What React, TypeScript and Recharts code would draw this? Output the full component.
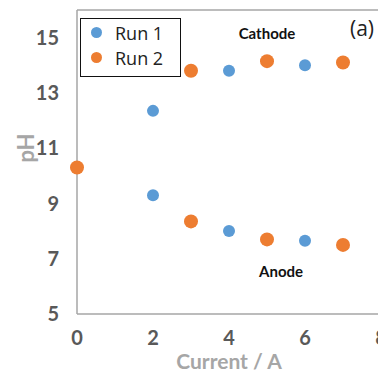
import { ScatterChart, Scatter, XAxis, YAxis, ReferenceLine, ReferenceDot, Legend } from 'recharts';

const run1Current = [2, 4, 6, 2, 4, 6];
const run1PH = [12.35, 13.8, 14.0, 9.3, 8.0, 7.65];
const run2Current = [0, 3, 5, 7, 3, 5, 7];
const run2PH = [10.3, 13.8, 14.15, 14.1, 8.35, 7.7, 7.5];
const xTicks = [0, 2, 4, 6, 8];
const yTicks = [5, 7, 9, 11, 13, 15];

const run1 = run1Current.map((x, i) => ({ x, y: run1PH[i] }));
const run2 = run2Current.map((x, i) => ({ x, y: run2PH[i] }));

const BLUE = '#5B9BD5';
const ORANGE = '#ED7D31';
const AXIS = '#a6a6a6';
const TICK = { fill: '#595959', fontSize: 20, fontWeight: 700, fontFamily: 'Lato' };

function LegendBox() {
  const row = (color: string, label: string) => (
    <div style={{ display: 'flex', alignItems: 'center', height: 25 }}>
      <span style={{ width: 11, height: 11, borderRadius: '50%', background: color, display: 'inline-block', marginLeft: 10, marginRight: 13 }} />
      <span style={{ fontFamily: 'Open Sans', fontSize: 18, color: '#222' }}>{label}</span>
    </div>
  );
  return (
    <div style={{ border: '1.5px solid #111', width: 101, height: 59, boxSizing: 'border-box', background: '#fff', paddingTop: 1 }}>
      {row(BLUE, 'Run 1')}
      {row(ORANGE, 'Run 2')}
    </div>
  );
}

const PHLabel = () => (
  <text x={25} y={148} transform="rotate(-90 25 148)" textAnchor="middle" dominantBaseline="central"
    fill={AXIS} fontSize={22} fontFamily="Lato" fontWeight={700}>pH</text>
);

export default function App() {
  return (
    <div style={{ position: 'absolute', left: 0, top: 0, width: 378, height: 373, overflow: 'hidden', background: '#fff' }}>
      <ScatterChart width={400} height={373} margin={{ top: 10, right: 19, bottom: 0, left: 0 }}>
        <XAxis type="number" dataKey="x" domain={[0, 8]} ticks={xTicks} tickSize={0} tickMargin={17}
          axisLine={{ stroke: AXIS, strokeWidth: 1.5 }} tick={TICK} height={59}
          label={{ value: 'Current / A', position: 'insideBottom', offset: 4, fill: AXIS, fontSize: 21, fontWeight: 700, fontFamily: 'Lato' }} />
        <YAxis type="number" dataKey="y" domain={[5, 16]} ticks={yTicks} tickSize={0} tickMargin={18}
          axisLine={{ stroke: AXIS, strokeWidth: 1.5 }} tick={TICK} width={77} label={<PHLabel />} />
        <ReferenceLine y={16} stroke={AXIS} strokeWidth={1.5} />
        <Scatter name="Run 1" data={run1} fill={BLUE} isAnimationActive={false}
          shape={(p: any) => <circle cx={p.cx} cy={p.cy} r={6} fill={BLUE} />} />
        <Scatter name="Run 2" data={run2} fill={ORANGE} isAnimationActive={false}
          shape={(p: any) => <circle cx={p.cx} cy={p.cy} r={7} fill={ORANGE} />} />
        <ReferenceDot x={5} y={15.15} r={0} label={{ value: 'Cathode', fill: '#111', fontSize: 15, fontWeight: 700, fontFamily: 'Lato' }} />
        <ReferenceDot x={5.37} y={6.53} r={0} label={{ value: 'Anode', fill: '#111', fontSize: 15, fontWeight: 700, fontFamily: 'Lato' }} />
        <ReferenceDot x={7.5} y={15.33} r={0} label={{ value: '(a)', fill: '#222', fontSize: 21, fontFamily: 'Open Sans' }} />
        <Legend layout="vertical" align="center" verticalAlign="middle" content={<LegendBox />}
          wrapperStyle={{ position: 'absolute', left: 80, top: 18, width: 'auto' }} />
      </ScatterChart>
    </div>
  );
}
